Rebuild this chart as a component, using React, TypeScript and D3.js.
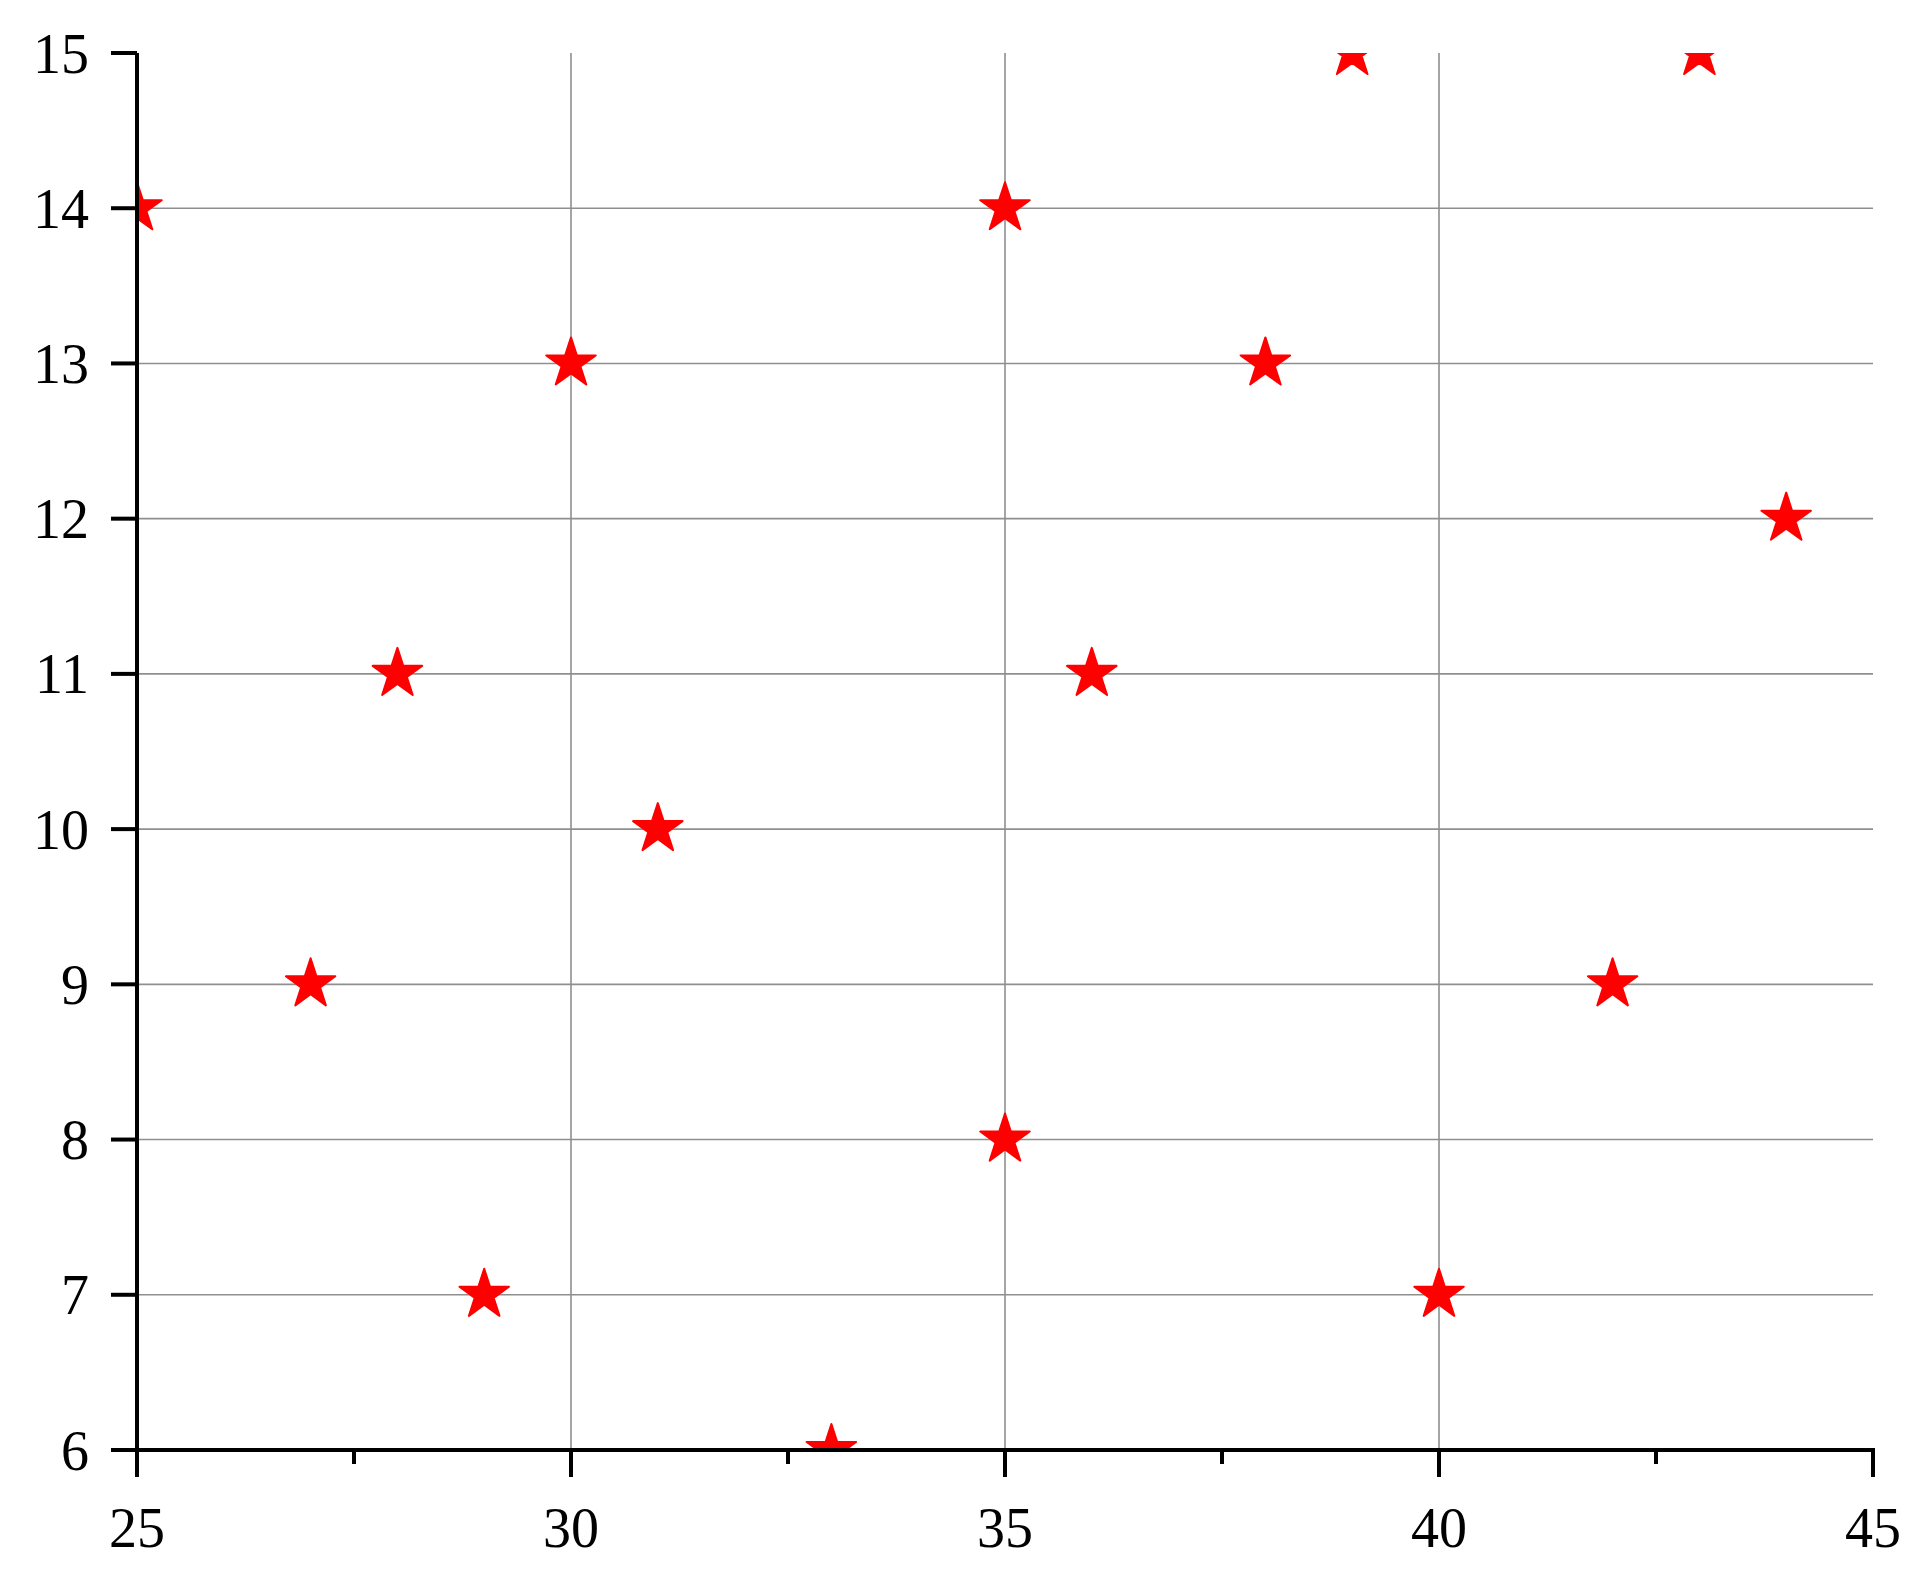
import * as d3 from 'd3';

// scatter points
const xValues = [25, 27, 28, 29, 30, 31, 33, 35, 35, 36, 38, 39, 40, 42, 43, 44];
const yValues = [14, 9, 11, 7, 13, 10, 6, 14, 8, 11, 13, 15, 7, 9, 15, 12];

const xTicks = [25, 30, 35, 40, 45];
const xMinorTicks = [27.5, 32.5, 37.5, 42.5];
const yTicks = [6, 7, 8, 9, 10, 11, 12, 13, 14, 15];

const W = 1929;
const H = 1571;
const margin = { top: 53, right: 56, bottom: 121, left: 137 };

export default function App() {
  const x = d3.scaleLinear().domain([25, 45]).range([margin.left, W - margin.right]);
  const y = d3.scaleLinear().domain([6, 15]).range([H - margin.bottom, margin.top]);

  const star = d3.symbol().type(d3.symbolStar).size(760)();
  const font = '"Liberation Serif", "Times New Roman", serif';

  const x0 = x(25), x1 = x(45), y0 = y(6), y1 = y(15);

  return (
    <svg width={W} height={H} style={{ position: 'absolute', left: 0, top: 0, background: '#fff' }}>
      <defs>
        <clipPath id="plot">
          <rect x={x0} y={y1} width={x1 - x0} height={y0 - y1} />
        </clipPath>
      </defs>

      {/* grid, none on the outer edges */}
      <g stroke="#8f8f8f" strokeWidth={1.6}>
        {yTicks.filter(t => t !== 6 && t !== 15).map(t => (
          <line key={'gy' + t} x1={x0} x2={x1} y1={y(t)} y2={y(t)} />
        ))}
        {xTicks.filter(t => t !== 25 && t !== 45).map(t => (
          <line key={'gx' + t} x1={x(t)} x2={x(t)} y1={y1} y2={y0} />
        ))}
      </g>

      {/* points */}
      <g clipPath="url(#plot)">
        {xValues.map((v, i) => (
          <path key={i} d={star} transform={`translate(${x(v)},${y(yValues[i])})`}
            fill="#ff0000" stroke="#ff0000" strokeWidth={2} strokeLinejoin="round" />
        ))}
      </g>

      {/* axes */}
      <g stroke="#000" strokeWidth={4} fill="none">
        <line x1={x0} x2={x0} y1={y1} y2={y0 + 2} />
        <line x1={x0 - 2} x2={x1 + 2} y1={y0} y2={y0} />
        {yTicks.map(t => (
          <line key={'ty' + t} x1={x0 - 26} x2={x0} y1={y(t)} y2={y(t)} />
        ))}
        {xTicks.map(t => (
          <line key={'tx' + t} x1={x(t)} x2={x(t)} y1={y0} y2={y0 + 27} />
        ))}
        {xMinorTicks.map(t => (
          <line key={'mx' + t} x1={x(t)} x2={x(t)} y1={y0} y2={y0 + 14} />
        ))}
      </g>

      <g fontFamily={font} fontSize={56} fill="#000">
        {yTicks.map(t => (
          <text key={'ly' + t} x={x0 - 48} y={y(t)} dy="0.35em" textAnchor="end">{t}</text>
        ))}
        {xTicks.map(t => (
          <text key={'lx' + t} x={x(t)} y={y0 + 97} textAnchor="middle">{t}</text>
        ))}
      </g>
    </svg>
  );
}
